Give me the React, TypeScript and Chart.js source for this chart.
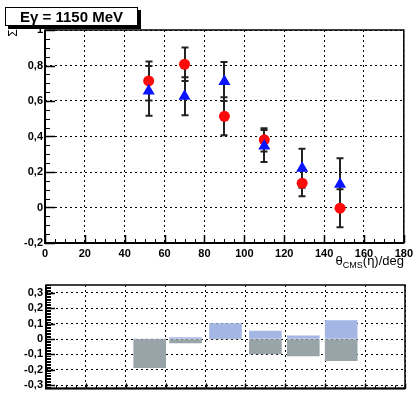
import React, { useEffect, useRef } from "react";
import { Chart, registerables } from "chart.js";
Chart.register(...registerables);

// ---- data ----
const angles = [52, 70, 90, 110, 129, 148];
const sigmaRed = [0.713, 0.807, 0.514, 0.381, 0.137, -0.004];
const errRed = [0.11, 0.095, 0.107, 0.066, 0.073, 0.107];
const sigmaBlue = [0.657, 0.627, 0.71, 0.347, 0.221, 0.131];
const errBlue = [0.14, 0.107, 0.11, 0.09, 0.11, 0.147];
const diffLow = [-0.185, -0.025, 0, -0.097, -0.11, -0.14];
const diffHigh = [0, 0.01, 0.1, 0.052, 0.02, 0.12];
const xTickValues = [0, 20, 40, 60, 80, 100, 120, 140, 160, 180];
const yTickValuesTop = [-0.2, 0, 0.2, 0.4, 0.6, 0.8, 1];
const yTickValuesBottom = [-0.3, -0.2, -0.1, 0, 0.1, 0.2, 0.3];

const FONT = "'Liberation Sans', Arial, sans-serif";

const fmt = (v: number) => String(Math.round(v * 100) / 100).replace(".", ",");

function steps(min: number, max: number, step: number): number[] {
  const out: number[] = [];
  const a = Math.ceil(min / step - 1e-9);
  const b = Math.floor(max / step + 1e-9);
  for (let i = a; i <= b; i++) out.push(Math.round(i * step * 1000) / 1000);
  return out;
}

type TickCfg = {
  yMajor: number[]; yMinor: number[]; yMajorLen: number; yMinorLen: number;
  xMajor: number[]; xMinor: number[]; xMajorLen: number; xMinorLen: number;
};

function makeFrame(t: TickCfg) {
  return {
    id: "rootFrame",
    afterDraw(chart: any) {
      const { ctx, chartArea: a, scales } = chart;
      const xs = scales.x, ys = scales.y;
      ctx.save();
      ctx.strokeStyle = "#000";
      ctx.lineWidth = 1;
      ctx.beginPath();
      const yLine = (v: number, len: number) => {
        const p = Math.round(ys.getPixelForValue(v)) + 0.5;
        ctx.moveTo(a.left, p); ctx.lineTo(a.left + len, p);
      };
      const xLine = (v: number, len: number) => {
        const p = Math.round(xs.getPixelForValue(v)) + 0.5;
        ctx.moveTo(p, a.bottom); ctx.lineTo(p, a.bottom - len);
      };
      t.yMinor.forEach((v) => yLine(v, t.yMinorLen));
      t.xMinor.forEach((v) => xLine(v, t.xMinorLen));
      ctx.stroke();
      ctx.lineWidth = 1.5;
      ctx.beginPath();
      t.yMajor.forEach((v) => yLine(v, t.yMajorLen));
      t.xMajor.forEach((v) => xLine(v, t.xMajorLen));
      ctx.stroke();
      ctx.lineWidth = 1.5;
      ctx.strokeRect(a.left, a.top, a.right - a.left, a.bottom - a.top);
      ctx.lineWidth = 2;
      ctx.beginPath();
      ctx.moveTo(a.left, a.top); ctx.lineTo(a.left, a.bottom); ctx.lineTo(a.right, a.bottom);
      ctx.stroke();
      ctx.restore();
    },
  };
}

const errorLists = [errBlue, errRed];
const errorBars = {
  id: "errorBars",
  beforeDatasetsDraw(chart: any) {
    const { ctx, scales } = chart;
    const ys = scales.y;
    ctx.save();
    ctx.strokeStyle = "#222";
    ctx.lineWidth = 2;
    chart.data.datasets.forEach((ds: any, i: number) => {
      const errs = errorLists[i];
      if (!errs) return;
      const meta = chart.getDatasetMeta(i);
      meta.data.forEach((pt: any, j: number) => {
        const v = ds.data[j].y;
        const y1 = ys.getPixelForValue(v - errs[j]);
        const y2 = ys.getPixelForValue(v + errs[j]);
        const x = Math.round(pt.x);
        ctx.beginPath();
        ctx.moveTo(x, y1); ctx.lineTo(x, y2);
        ctx.moveTo(x - 3.5, y1); ctx.lineTo(x + 3.5, y1);
        ctx.moveTo(x - 3.5, y2); ctx.lineTo(x + 3.5, y2);
        ctx.stroke();
      });
    });
    ctx.restore();
  },
};

const tickFont = { family: FONT, size: 11, weight: "bold" as const };

function TopChart() {
  const ref = useRef<HTMLCanvasElement>(null);
  useEffect(() => {
    if (!ref.current) return;
    const chart = new Chart(ref.current, {
      type: "scatter",
      data: {
        datasets: [
          {
            label: "B",
            data: angles.map((x, i) => ({ x, y: sigmaBlue[i] })),
            pointStyle: "triangle",
            pointRadius: 7,
            backgroundColor: "#0a14ff",
            borderWidth: 0,
          },
          {
            label: "A",
            data: angles.map((x, i) => ({ x, y: sigmaRed[i] })),
            pointStyle: "circle",
            pointRadius: 5.5,
            backgroundColor: "#ff0a0a",
            borderWidth: 0,
          },
        ],
      },
      options: {
        animation: false,
        responsive: false,
        maintainAspectRatio: false,
        layout: { padding: { top: 30, right: 12, left: 0, bottom: 0 } },
        plugins: { legend: { display: false }, tooltip: { enabled: false } },
        scales: {
          x: {
            type: "linear",
            min: 0,
            max: 180,
            afterBuildTicks: (s: any) => { s.ticks = xTickValues.map((value) => ({ value })); },
            afterFit: (s: any) => { s.height = 27; },
            grid: { color: "#000", lineWidth: 1, drawTicks: false },
            border: { display: false, dash: [2, 3] },
            ticks: { font: tickFont, color: "#000", padding: 4, autoSkip: false, maxRotation: 0, callback: (v: any) => fmt(Number(v)) },
          },
          y: {
            type: "linear",
            min: -0.2,
            max: 1,
            afterBuildTicks: (s: any) => { s.ticks = yTickValuesTop.map((value) => ({ value })); },
            afterFit: (s: any) => { s.width = 45; },
            grid: { color: "#000", lineWidth: 1, drawTicks: false },
            border: { display: false, dash: [2, 3] },
            ticks: { font: tickFont, color: "#000", padding: 2, autoSkip: false, callback: (v: any) => fmt(Number(v)) },
          },
        },
      },
      plugins: [
        errorBars,
        makeFrame({
          yMajor: yTickValuesTop, yMinor: steps(-0.2, 1, 0.05), yMajorLen: 10, yMinorLen: 5,
          xMajor: xTickValues, xMinor: steps(0, 180, 5), xMajorLen: 8, xMinorLen: 4,
        }),
      ],
    } as any);
    return () => chart.destroy();
  }, []);
  return <canvas ref={ref} width={417} height={270} style={{ position: "absolute", left: 0, top: 0, display: "block" }} />;
}

function BottomChart() {
  const ref = useRef<HTMLCanvasElement>(null);
  useEffect(() => {
    if (!ref.current) return;
    const chart = new Chart(ref.current, {
      type: "bar",
      data: {
        datasets: [
          {
            label: "low",
            data: angles.map((x, i) => ({ x, y: diffLow[i] })),
            backgroundColor: "rgb(152,164,168)",
            borderWidth: 0,
            barThickness: 32,
            grouped: false,
          },
          {
            label: "high",
            data: angles.map((x, i) => ({ x, y: diffHigh[i] })),
            backgroundColor: "rgb(163,182,228)",
            borderWidth: 0,
            barThickness: 32,
            grouped: false,
          },
        ],
      },
      options: {
        animation: false,
        responsive: false,
        maintainAspectRatio: false,
        layout: { padding: { top: 15, right: 12, left: 0, bottom: 0 } },
        plugins: { legend: { display: false }, tooltip: { enabled: false } },
        scales: {
          x: {
            type: "linear",
            min: 0,
            max: 180,
            offset: false,
            afterBuildTicks: (s: any) => { s.ticks = xTickValues.map((value) => ({ value })); },
            afterFit: (s: any) => { s.height = 7; },
            grid: { color: "#000", lineWidth: 1, drawTicks: false, offset: false },
            border: { display: false, dash: [2, 3] },
            ticks: { display: false },
          },
          y: {
            type: "linear",
            min: -0.32,
            max: 0.35,
            afterBuildTicks: (s: any) => { s.ticks = yTickValuesBottom.map((value) => ({ value })); },
            afterFit: (s: any) => { s.width = 46; },
            grid: { color: "#000", lineWidth: 1, drawTicks: false },
            border: { display: false, dash: [2, 3] },
            ticks: { font: tickFont, color: "#000", padding: 3, autoSkip: false, callback: (v: any) => fmt(Number(v)) },
          },
        },
      },
      plugins: [
        makeFrame({
          yMajor: yTickValuesBottom, yMinor: steps(-0.32, 0.35, 0.01), yMajorLen: 9, yMinorLen: 5,
          xMajor: xTickValues, xMinor: steps(0, 180, 5), xMajorLen: 5, xMinorLen: 3,
        }),
      ],
    } as any);
    return () => chart.destroy();
  }, []);
  return <canvas ref={ref} width={417} height={128} style={{ position: "absolute", left: 0, top: 270, display: "block" }} />;
}

export default function App() {
  return (
    <div style={{ position: "fixed", left: 0, top: 0, width: 417, height: 398, background: "#fff", overflow: "hidden", fontFamily: FONT }}>
      <TopChart />
      <BottomChart />
      <div
        style={{
          position: "absolute", left: 5, top: 7, width: 131, height: 17,
          border: "1px solid #000", boxShadow: "3px 3px 0 #000", background: "#fff",
          font: `bold 15px ${FONT}`, lineHeight: "17px", textAlign: "center", color: "#000",
        }}
      >
        Eγ = 1150 MeV
      </div>
      <div
        style={{
          position: "absolute", left: 6, top: 27, width: 12, height: 12, lineHeight: "12px",
          font: `12px ${FONT}`, transform: "rotate(-90deg)", textAlign: "center", color: "#000",
        }}
      >
        Σ
      </div>
      <div
        style={{
          position: "absolute", right: 13, top: 254, font: `13px ${FONT}`, lineHeight: "14px",
          whiteSpace: "nowrap", color: "#000",
        }}
      >
        θ<span style={{ fontSize: 9, position: "relative", top: 3 }}>CMS</span>(η)/deg
      </div>
    </div>
  );
}
